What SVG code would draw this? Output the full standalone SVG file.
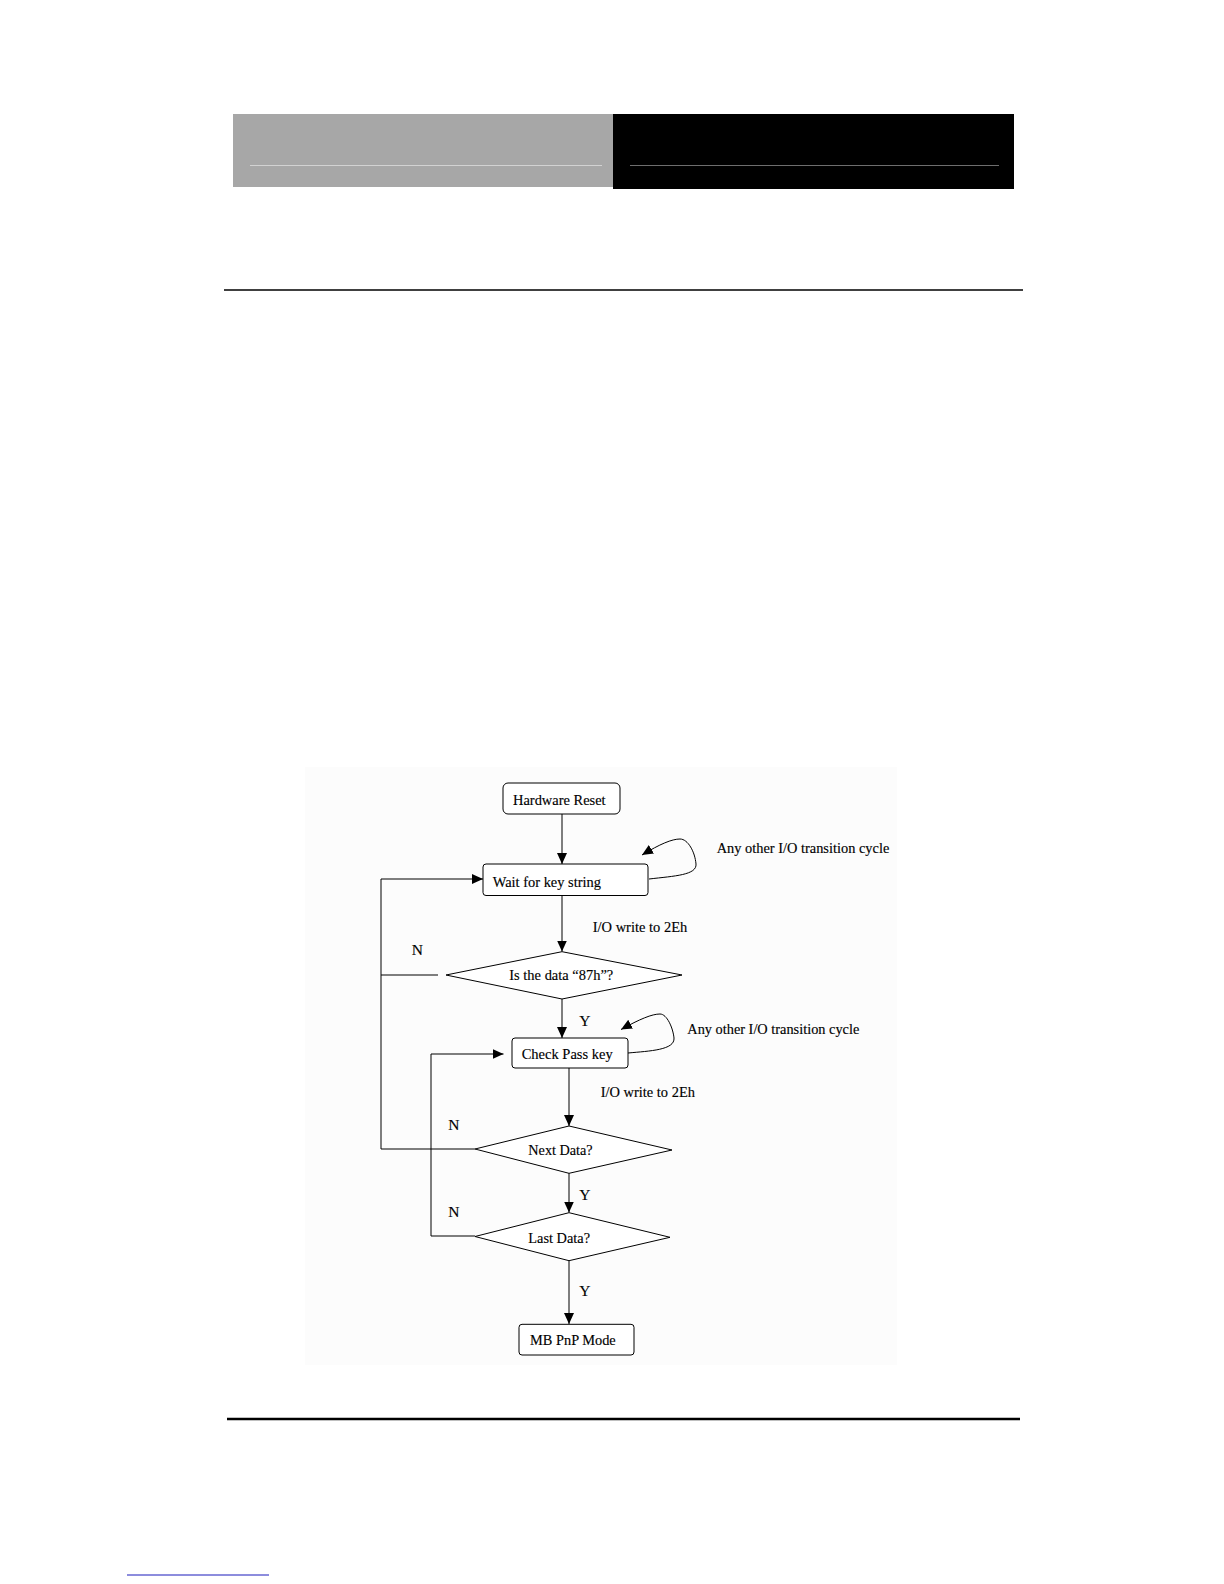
<svg xmlns="http://www.w3.org/2000/svg" width="1224" height="1584" viewBox="0 0 1224 1584">
<style>
.box{fill:#fff;stroke:#000;stroke-width:1}
.dia{fill:#fff;stroke:#000;stroke-width:1}
.t{font-family:"Liberation Serif","Times New Roman",serif;font-size:15.5px;fill:#000;stroke:#000;stroke-width:0.15}
.c{fill:none;stroke:#000;stroke-width:1}
</style>
<defs>
<marker id="ah" markerUnits="userSpaceOnUse" markerWidth="11" markerHeight="10" refX="11" refY="5" orient="auto">
<path d="M0,0 L11,5 L0,10 z" fill="#000"/>
</marker>
</defs>
<rect width="1224" height="1584" fill="#fff"/>
<g id="header">
<rect x="233" y="114" width="380" height="73" fill="#a7a7a7"/>
<line x1="250" y1="165.5" x2="602" y2="165.5" stroke="#d2d2d2" stroke-width="1"/>
<rect x="613" y="114" width="401" height="75" fill="#000"/>
<line x1="630" y1="165.5" x2="999" y2="165.5" stroke="#6e6e6e" stroke-width="1"/>
<line x1="224" y1="290" x2="1023" y2="290" stroke="#000" stroke-width="1.5"/>
</g>
<rect x="305" y="767" width="592" height="598" fill="#fcfcfc"/>
<g id="connectors">
<path class="c" d="M562,814 L562,864" marker-end="url(#ah)"/>
<path class="c" d="M562,896 L562,951.5" marker-end="url(#ah)"/>
<path class="c" d="M562,999 L562,1038" marker-end="url(#ah)"/>
<path class="c" d="M569,1068 L569,1126" marker-end="url(#ah)"/>
<path class="c" d="M569,1173 L569,1212.5" marker-end="url(#ah)"/>
<path class="c" d="M569,1261 L569,1324" marker-end="url(#ah)"/>
<path class="c" d="M438,975 L381,975"/>
<path class="c" d="M475,1149 L381,1149 L381,879 L483,879" marker-end="url(#ah)"/>
<path class="c" d="M475,1236 L431,1236 L431,1054 L503.5,1054" marker-end="url(#ah)"/>
<path class="c" d="M649,879 C675,876 697,875 696,864 C695,852 688,839 680,839 C672,839 660,844 642,855" marker-end="url(#ah)"/>
<path class="c" d="M628,1053 C650,1051 675,1050 674,1038 C673,1028 667,1014 660,1014 C652,1014 640,1019 621,1029.5" marker-end="url(#ah)"/>
</g>
<g id="labels">
<text class="t" x="716.7" y="852.7" textLength="172.6" lengthAdjust="spacingAndGlyphs">Any other I/O transition cycle</text>
<text class="t" x="592.7" y="931.7" textLength="94.6" lengthAdjust="spacingAndGlyphs">I/O write to 2Eh</text>
<text class="t" x="411.7" y="955">N</text>
<text class="t" x="579.3" y="1026">Y</text>
<text class="t" x="687.3" y="1034.3" textLength="172" lengthAdjust="spacingAndGlyphs">Any other I/O transition cycle</text>
<text class="t" x="600.7" y="1096.7" textLength="94.3" lengthAdjust="spacingAndGlyphs">I/O write to 2Eh</text>
<text class="t" x="448.3" y="1130">N</text>
<text class="t" x="579.3" y="1200">Y</text>
<text class="t" x="448.3" y="1216.7">N</text>
<text class="t" x="579.3" y="1296">Y</text>
</g>
<g id="hardware-reset">
<rect class="box" x="503" y="783" width="117" height="31" rx="5"/>
<text class="t" x="513" y="805" textLength="92.6" lengthAdjust="spacingAndGlyphs">Hardware Reset</text>
</g>
<g id="wait-key">
<rect class="box" x="483" y="864" width="165" height="31.5" rx="3"/>
<text class="t" x="492.7" y="887" textLength="108.3" lengthAdjust="spacingAndGlyphs">Wait for key string</text>
</g>
<g id="is-87h">
<polygon class="dia" points="562,951.7 682,975 562,999 446,975"/>
<text class="t" x="509.3" y="980" textLength="104" lengthAdjust="spacingAndGlyphs">Is the data “87h”?</text>
</g>
<g id="check-pass">
<rect class="box" x="512" y="1038" width="116" height="30" rx="3"/>
<text class="t" x="521.7" y="1059.3" textLength="91" lengthAdjust="spacingAndGlyphs">Check Pass key</text>
</g>
<g id="next-data">
<polygon class="dia" points="569,1126 672,1150 569,1173.3 475,1149"/>
<text class="t" x="528.3" y="1155" textLength="64.4" lengthAdjust="spacingAndGlyphs">Next Data?</text>
</g>
<g id="last-data">
<polygon class="dia" points="569,1212.7 670,1237.3 569,1260.7 475,1236.5"/>
<text class="t" x="528.3" y="1242.7" textLength="61.7" lengthAdjust="spacingAndGlyphs">Last Data?</text>
</g>
<g id="mb-pnp">
<rect class="box" x="519" y="1324.3" width="115" height="30.7" rx="3"/>
<text class="t" x="530" y="1345" textLength="85.7" lengthAdjust="spacingAndGlyphs">MB PnP Mode</text>
</g>
<g id="footer">
<line x1="227" y1="1419" x2="1020" y2="1419" stroke="#000" stroke-width="2.6"/>
<line x1="127" y1="1575" x2="269" y2="1575" stroke="#1a1abb" stroke-width="1"/>
</g>
</svg>
